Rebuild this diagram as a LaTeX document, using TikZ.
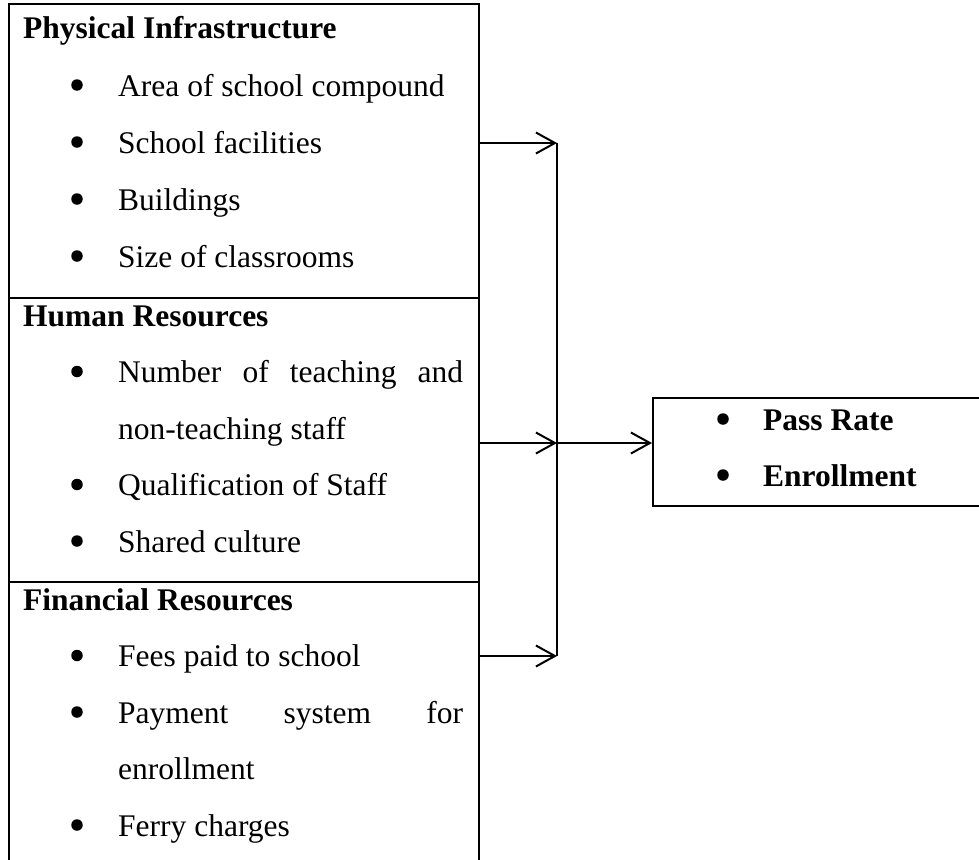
\documentclass[tikz,border=0pt]{standalone}
\usepackage{fontspec}
\setmainfont{Liberation Serif}
\usetikzlibrary{arrows.meta}
\begin{document}
\begin{tikzpicture}[x=1pt,y=-1pt,
  frame/.style={draw, line width=2pt},
  link/.style={line width=1.8pt},
  arr/.style={link, -{Straight Barb[length=19pt,width=21pt,line width=2pt]}},
  head/.style={anchor=base west, inner sep=0pt, font=\fontsize{31.5}{36}\selectfont\bfseries},
  item/.style={anchor=base west, inner sep=0pt, font=\fontsize{31.5}{36}\selectfont},
  bitem/.style={item, font=\fontsize{31.5}{36}\selectfont\bfseries},
  dot/.style={circle, fill, inner sep=0pt, minimum size=11.5pt},
]
\useasboundingbox (0,0) rectangle (979,859);
\clip (0,0) rectangle (979,859);

% left column: three stacked boxes
\node[frame, anchor=north west, minimum width=470pt, minimum height=294pt, inner sep=0pt] (phys) at (8,3) {};
\node[frame, anchor=north west, minimum width=470pt, minimum height=284pt, inner sep=0pt] (hum) at (8,297) {};
\node[frame, anchor=north west, minimum width=470pt, minimum height=330pt, inner sep=0pt] (fin) at (8,581) {};

% outcome box
\node[frame, anchor=north west, minimum width=330pt, minimum height=108pt, inner sep=0pt] (out) at (652,397) {};

% Physical Infrastructure
\node[head] (h1) at (23,38) {Physical Infrastructure};
\node[dot] (b11) at (77,85) {};  \node[item] (t11) at (118,96) {Area of school compound};
\node[dot] (b12) at (77,142) {}; \node[item] (t12) at (118,153) {School facilities};
\node[dot] (b13) at (77,199) {}; \node[item] (t13) at (118,210) {Buildings};
\node[dot] (b14) at (77,256) {}; \node[item] (t14) at (118,267) {Size of classrooms};

% Human Resources
\node[head] (h2) at (23,326) {Human Resources};
\node[dot] (b21) at (77,371.5) {}; \node[item] (t21) at (118,382.5) {\makebox[345pt][s]{Number of teaching and}};
\node[item] (t21b) at (118,439) {non-teaching staff};
\node[dot] (b22) at (77,484.5) {}; \node[item] (t22) at (118,495.5) {Qualification of Staff};
\node[dot] (b23) at (77,541) {};   \node[item] (t23) at (118,552) {Shared culture};

% Financial Resources
\node[head] (h3) at (23,610) {Financial Resources};
\node[dot] (b31) at (77,655.5) {}; \node[item] (t31) at (118,666.5) {Fees paid to school};
\node[dot] (b32) at (77,712) {};   \node[item] (t32) at (118,723) {\makebox[345pt][s]{Payment system for}};
\node[item] (t32b) at (118,779.5) {enrollment};
\node[dot] (b33) at (77,825) {};   \node[item] (t33) at (118,836) {Ferry charges};

% outcomes
\node[dot] (o1) at (723,419) {}; \node[bitem] (p1) at (763,430) {Pass Rate};
\node[dot] (o2) at (723,475) {}; \node[bitem] (p2) at (763,486) {Enrollment};

% connectors
\coordinate (s1) at (478,143);
\coordinate (s2) at (478,443);
\coordinate (s3) at (478,656);
\coordinate (j1) at (557,143);
\coordinate (j2) at (557,443);
\coordinate (j3) at (557,656);
\draw[arr] (s1) -- (j1);
\draw[arr] (s2) -- (j2);
\draw[arr] (s3) -- (j3);
\draw[link] (j1) -- (j3);
\draw[arr] (j2) -- (j2 -| out.west);
\end{tikzpicture}
\end{document}
